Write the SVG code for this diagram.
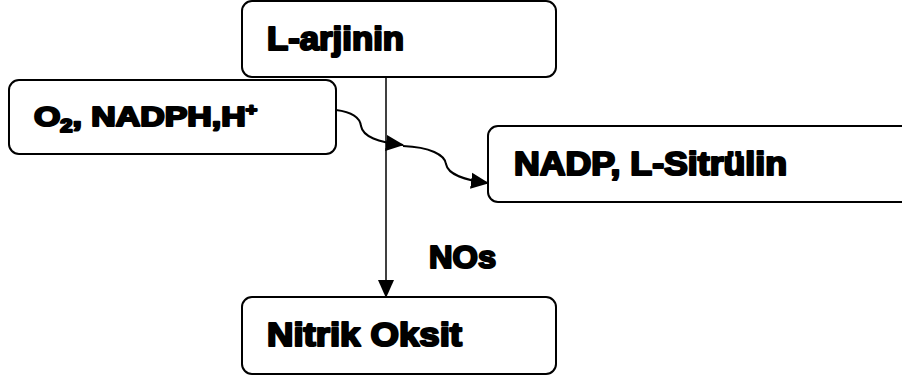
<svg xmlns="http://www.w3.org/2000/svg" width="902" height="381" viewBox="0 0 902 381">
<style>
.box{fill:#fff;stroke:#000;stroke-width:2}
.t{font-family:"Liberation Sans",Arial,sans-serif;font-weight:bold;fill:#000;stroke:#000;stroke-width:2.2;stroke-linejoin:round}
.c{fill:none;stroke:#000;stroke-width:2}
.v{fill:none;stroke:#000;stroke-width:1.5}
</style>
<defs>
<marker id="ah" markerUnits="userSpaceOnUse" markerWidth="18" markerHeight="18" viewBox="0 0 18 16" refX="17" refY="8" orient="auto">
<path d="M0,0 L18,8 L0,16 Z" fill="#000"/>
</marker>
</defs>
<rect width="902" height="381" fill="#fff"/>
<g id="node-larjinin">
<rect class="box" x="242" y="1" width="314" height="76" rx="10"/>
<text class="t" x="267" y="50" font-size="33" textLength="137" lengthAdjust="spacingAndGlyphs">L-arjinin</text>
</g>
<g id="node-o2">
<rect class="box" x="9" y="80" width="327" height="74" rx="10"/>
<text class="t" x="34" y="126" font-size="28" textLength="223" lengthAdjust="spacingAndGlyphs">O<tspan font-size="18" dy="6">2</tspan><tspan dy="-6">, NADPH,H</tspan><tspan font-size="16" dy="-11">+</tspan></text>
</g>
<g id="node-nadp">
<rect class="box" x="488" y="126" width="430" height="76" rx="10"/>
<text class="t" x="514" y="175" font-size="33" textLength="273" lengthAdjust="spacingAndGlyphs">NADP, L-Sitrülin</text>
</g>
<g id="node-nitrik">
<rect class="box" x="242" y="297" width="314" height="77" rx="10"/>
<text class="t" x="267" y="346" font-size="33" textLength="195" lengthAdjust="spacingAndGlyphs">Nitrik Oksit</text>
</g>
<g id="connectors">
<path class="v" d="M386,77 L386,297" marker-end="url(#ah)"/>
<path class="c" d="M336,110 C352,112 360,118 361,126 C363,137 378,142 403,145" marker-end="url(#ah)"/>
<path class="c" d="M403,146 C430,147 445,155 446,164 C448,175 465,180 488,183" marker-end="url(#ah)"/>
<text class="t" x="429" y="268" font-size="32" textLength="67" lengthAdjust="spacingAndGlyphs">NOs</text>
</g>
</svg>
